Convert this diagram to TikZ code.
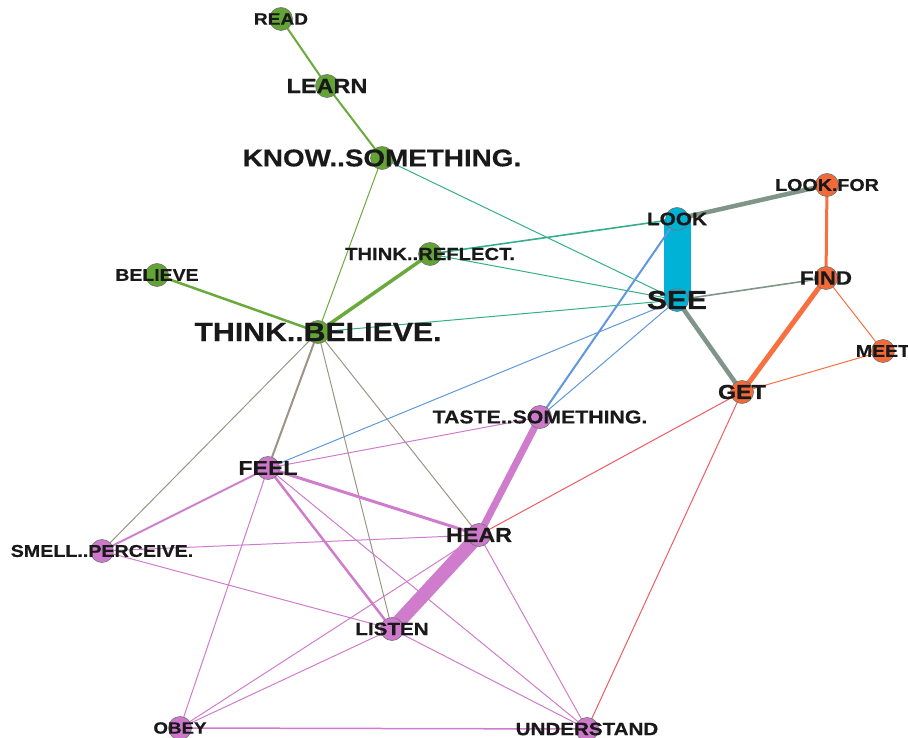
\documentclass[tikz,border=0pt]{standalone}
\usepackage{fontspec}
\newfontfamily\lblfont{Liberation Sans}[FakeStretch=1.15, FakeBold=0.5]
\usetikzlibrary{backgrounds}

\definecolor{grn}{HTML}{62A534}
\definecolor{cyn}{HTML}{00B2D6}
\definecolor{org}{HTML}{F26A38}
\definecolor{pnk}{HTML}{CE78CC}
\definecolor{grnedge}{HTML}{6AAA3C}
\definecolor{teal}{HTML}{33B08A}
\definecolor{blu}{HTML}{5F98DC}
\definecolor{gry}{HTML}{7F958A}
\definecolor{orgedge}{HTML}{F8703F}
\definecolor{redge}{HTML}{EE5B63}
\definecolor{tan}{HTML}{9C9484}
\definecolor{pnkedge}{HTML}{D07CCC}

\tikzset{
    vert/.style={circle, draw=black!55, line width=0.6pt, minimum size=23pt, inner sep=0pt},
    gv/.style={vert, fill=grn},
    cv/.style={vert, fill=cyn},
    ov/.style={vert, fill=org},
    pv/.style={vert, fill=pnk},
    lbl/.style={font=\lblfont\bfseries\fontsize{#1pt}{#1pt}\selectfont, text=black!90, inner sep=0pt},
}

\begin{document}
\begin{tikzpicture}[x=1pt, y=-1pt]
        \clip (0,0) rectangle (908,738);

        % green group
        \node[gv, label={[lbl=16.6]center:READ}] (read) at (281,19) {};
        \node[gv, label={[lbl=20.4]center:LEARN}] (learn) at (327,86) {};
        \node[gv, label={[lbl=24.2]center:KNOW..SOMETHING.}] (know) at (382,158) {};
        \node[gv, label={[lbl=17.6]center:THINK..REFLECT.}] (reflect) at (430,254) {};
        \node[gv, label={[lbl=16.9]center:BELIEVE}] (believe) at (157,275) {};
        \node[gv, label={[lbl=26.3]center:THINK..BELIEVE.}] (thinkbel) at (318,332) {};
        % blue group
        \node[cv, label={[lbl=18.1]center:LOOK}] (look) at (677,219) {};
        \node[cv, label={[lbl=26.1]center:SEE}] (see) at (677,300) {};
        % orange group
        \node[ov, label={[lbl=17.1]center:LOOK.FOR}] (lookfor) at (827,185) {};
        \node[ov, label={[lbl=19.4]center:FIND}] (find) at (826,278) {};
        \node[ov, label={[lbl=17]center:MEET}] (meet) at (883,351) {};
        \node[ov, label={[lbl=20.3]center:GET}] (get) at (742,392) {};
        % pink group
        \node[pv, label={[lbl=18.5]center:TASTE..SOMETHING.}] (taste) at (540,417) {};
        \node[pv, label={[lbl=20.1]center:FEEL}] (feel) at (268,468) {};
        \node[pv, label={[lbl=17.1]center:SMELL..PERCEIVE.}] (smell) at (102,551) {};
        \node[pv, label={[lbl=20.3]center:HEAR}] (hear) at (479,535) {};
        \node[pv, label={[lbl=17.9]center:LISTEN}] (listen) at (392,629) {};
        \node[pv, label={[lbl=16.3]center:OBEY}] (obey) at (180,728) {};
        \node[pv, label={[lbl=17.9]center:UNDERSTAND}] (understand) at (587,729) {};

        \begin{scope}[on background layer]
            \draw [grnedge, line width=2pt] (read.center) -- (learn.center);
            \draw [grnedge, line width=2pt] (learn.center) -- (know.center);
            \draw [grnedge, line width=1pt] (know.center) -- (thinkbel.center);
            \draw [grnedge, line width=2.5pt] (believe.center) -- (thinkbel.center);
            \draw [grnedge, line width=3.5pt] (reflect.center) -- (thinkbel.center);
            \draw [teal, line width=1pt] (know.center) -- (see.center);
            \draw [teal, line width=1.6pt] (reflect.center) -- (look.center);
            \draw [teal, line width=1pt] (reflect.center) -- (see.center);
            \draw [teal, line width=1pt] (thinkbel.center) -- (see.center);
            \draw [cyn, line width=27pt] (look.center) -- (see.center);
            \draw [gry, line width=4.5pt] (look.center) -- (lookfor.center);
            \draw [gry, line width=1.6pt] (see.center) -- (find.center);
            \draw [gry, line width=4.5pt] (see.center) -- (get.center);
            \draw [orgedge, line width=3pt] (lookfor.center) -- (find.center);
            \draw [orgedge, line width=5pt] (find.center) -- (get.center);
            \draw [orgedge, line width=1pt] (find.center) -- (meet.center);
            \draw [orgedge, line width=1pt] (get.center) -- (meet.center);
            \draw [redge, line width=1pt] (get.center) -- (hear.center);
            \draw [redge, line width=1pt] (get.center) -- (understand.center);
            \draw [blu, line width=1pt] (feel.center) -- (see.center);
            \draw [blu, line width=2pt] (taste.center) -- (look.center);
            \draw [blu, line width=1pt] (taste.center) -- (see.center);
            \foreach \t in {smell,listen,hear} {
                \draw [tan, line width=1pt] (thinkbel.center) -- (\t.center);
            }
            \draw [tan, line width=2pt] (thinkbel.center) -- (feel.center);
            \draw [pnkedge, line width=7pt] (taste.center) -- (hear.center);
            \draw [pnkedge, line width=14pt] (hear.center) -- (listen.center);
            \draw [pnkedge, line width=3pt] (feel.center) -- (hear.center);
            \draw [pnkedge, line width=2pt] (feel.center) -- (smell.center);
            \draw [pnkedge, line width=2.5pt] (feel.center) -- (listen.center);
            \draw [pnkedge, line width=1.5pt] (obey.center) -- (understand.center);
            % thin pink ones
            \foreach \a/\b in {taste/feel, feel/understand, feel/obey, smell/hear, smell/listen,
                               obey/hear, obey/listen, listen/understand, hear/understand} {
                \draw [pnkedge, line width=1pt] (\a.center) -- (\b.center);
            }
        \end{scope}
    \end{tikzpicture}
\end{document}
